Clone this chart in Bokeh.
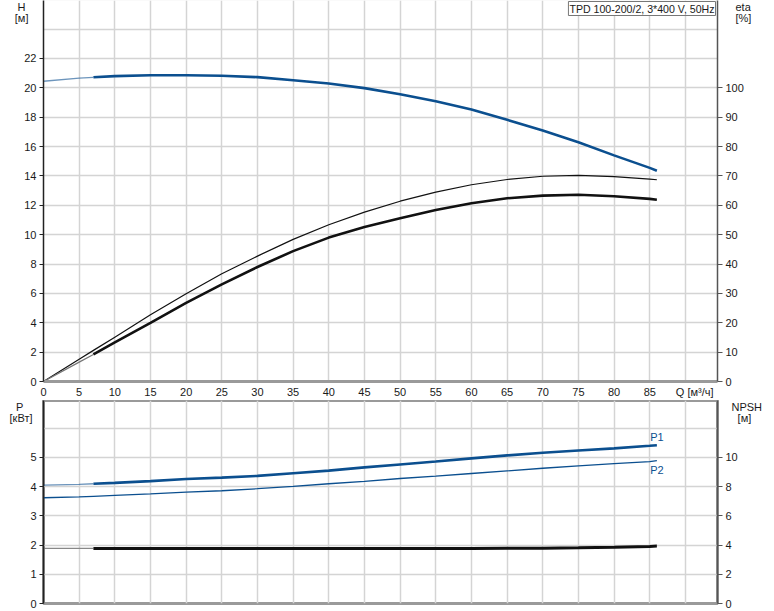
from bokeh.plotting import figure
from bokeh.models import Range1d, LinearAxis, FixedTicker, Label, Grid
from bokeh.layouts import column
from bokeh.embed import file_html
from bokeh.resources import INLINE

# ---------------- data ----------------
q_pts = [0, 5, 7, 10, 15, 20, 25, 30, 35, 40, 45, 50, 55, 60, 65, 70, 75, 80, 85, 86]
head_m = [20.45, 20.66, 20.72, 20.8, 20.86, 20.86, 20.82, 20.73, 20.52, 20.3,
          19.98, 19.57, 19.09, 18.52, 17.82, 17.1, 16.3, 15.4, 14.55, 14.36]
eta_pump = [0, 7.6, 10.6, 15.1, 22.7, 29.9, 36.7, 42.7, 48.4, 53.4,
            57.7, 61.4, 64.5, 67.0, 68.8, 69.9, 70.2, 69.8, 68.9, 68.7]
eta_total = [0, 6.6, 9.2, 13.3, 20.0, 26.8, 33.1, 39.0, 44.4, 49.0,
             52.6, 55.6, 58.4, 60.7, 62.4, 63.3, 63.6, 63.1, 62.2, 61.9]
p1_kw = [4.05, 4.08, 4.10, 4.13, 4.19, 4.26, 4.31, 4.37, 4.46, 4.55,
         4.66, 4.76, 4.86, 4.97, 5.07, 5.16, 5.24, 5.31, 5.40, 5.42]
p2_kw = [3.62, 3.65, 3.67, 3.70, 3.75, 3.81, 3.86, 3.93, 4.01, 4.10,
         4.18, 4.28, 4.36, 4.45, 4.54, 4.63, 4.71, 4.79, 4.86, 4.89]
npsh_m = [3.77, 3.77, 3.77, 3.77, 3.77, 3.77, 3.77, 3.77, 3.77, 3.76,
          3.76, 3.76, 3.76, 3.77, 3.78, 3.79, 3.82, 3.86, 3.91, 3.93]
q_duty_start = 7

q_ticks = list(range(0, 90, 5))
h_ticks = list(range(0, 23, 2))
eta_ticks = list(range(0, 101, 10))
p_ticks = list(range(0, 6))
npsh_ticks = list(range(0, 11, 2))

NB = "\u00a0"
q_title = "Q [м³/ч]"
q_title_at = 91.3
h_titles = ["H" + NB, "[м]"]
h_title_at = [25.54, 24.76]
eta_titles = ["eta", "[%]"]
eta_title_at = [127.7, 123.9]
p_titles = ["P" + NB * 3, "[кВт]"]
p_title_at = [6.74, 6.35]
npsh_titles = ["NPSH", NB * 2 + "[м]"]
npsh_title_at = [13.48, 12.70]
title_text = "TPD 100-200/2, 3*400 V, 50Hz"

# ---------------- style ----------------
FONT = "Liberation Sans"
BLUE = "#0b4f8f"
BLACK = "#111111"
GRID = "#d4d4d4"
TXT = "#1a1a1a"
Q_MAX = 94.5
H_MAX = 25.95
P_MAX = 6.95


def split(q, v, q0):
    thin_q = [a for a in q if a <= q0]
    thin_v = [b for a, b in zip(q, v) if a <= q0]
    thick_q = [a for a in q if a >= q0]
    thick_v = [b for a, b in zip(q, v) if a >= q0]
    return thin_q, thin_v, thick_q, thick_v


def style_axis(ax, ticks, line_color, line_width, tick_out=4):
    ax.ticker = FixedTicker(ticks=ticks)
    ax.axis_line_color = line_color
    ax.axis_line_width = line_width
    ax.major_tick_line_color = line_color
    ax.major_tick_out = tick_out
    ax.major_tick_in = 0
    ax.minor_tick_line_color = None
    ax.major_label_text_font = FONT
    ax.major_label_text_font_size = "11px"
    ax.major_label_text_color = TXT
    ax.major_label_standoff = 3


def title_axis(fig, place, at, labels, standoff, range_name="default"):
    ax = LinearAxis(y_range_name=range_name)
    ax.ticker = FixedTicker(ticks=at)
    ax.major_label_overrides = dict(zip(at, labels))
    ax.axis_line_color = None
    ax.major_tick_line_color = None
    ax.major_tick_out = 0
    ax.major_tick_in = 0
    ax.minor_tick_line_color = None
    ax.major_label_standoff = standoff
    ax.major_label_text_font = FONT
    ax.major_label_text_font_size = "11px"
    ax.major_label_text_color = TXT
    fig.add_layout(ax, place)


def add_grids(p, yticks):
    p.grid.visible = False
    p.add_layout(Grid(dimension=0, ticker=FixedTicker(ticks=list(range(5, 95, 5))),
                      grid_line_color=GRID, grid_line_width=1.5))
    p.add_layout(Grid(dimension=1, ticker=FixedTicker(ticks=yticks),
                      grid_line_color=GRID, grid_line_width=1.5))


# ---------------- top figure: H and eta ----------------
top = figure(width=774, height=400, x_range=Range1d(0, Q_MAX), y_range=Range1d(0, H_MAX),
             output_backend="svg", toolbar_location=None,
             min_border_left=43, min_border_right=57, min_border_top=0, min_border_bottom=19)
top.extra_y_ranges = {"eta": Range1d(0, 5 * H_MAX)}
top.outline_line_color = None
add_grids(top, list(range(2, 27, 2)))

style_axis(top.yaxis[0], h_ticks, "#222222", 1.5)
style_axis(top.xaxis[0], q_ticks + [q_title_at], "#9a9a9a", 3, tick_out=0)
top.xaxis[0].major_label_overrides = {q_title_at: q_title}
top.xaxis[0].major_label_standoff = 4
eta_axis = LinearAxis(y_range_name="eta")
style_axis(eta_axis, eta_ticks, "#555555", 1.5, tick_out=5)
top.add_layout(eta_axis, "right")
title_axis(top, "left", h_title_at, h_titles, -7)
title_axis(top, "right", eta_title_at, eta_titles, -11, "eta")

tq, tv, kq, kv = split(q_pts, head_m, q_duty_start)
top.line(tq, tv, line_color=BLUE, line_width=1.3, line_alpha=0.6)
top.line(kq, kv, line_color=BLUE, line_width=2.6)

top.line(q_pts, eta_pump, line_color=BLACK, line_width=1.2, y_range_name="eta")
tq, tv, kq, kv = split(q_pts, eta_total, q_duty_start)
top.line(tq, tv, line_color="#777777", line_width=1.2, y_range_name="eta")
top.line(kq, kv, line_color=BLACK, line_width=2.6, y_range_name="eta")

top.add_layout(Label(x=Q_MAX, y=H_MAX, x_offset=-2, y_offset=-1, text=title_text,
                     text_align="right", text_baseline="top", text_font=FONT,
                     text_font_size="10.6px", text_color=TXT, padding=1,
                     background_fill_color="white", border_line_color="#777777",
                     border_line_width=1))

# ---------------- bottom figure: P and NPSH ----------------
bot = figure(width=774, height=210, x_range=top.x_range, y_range=Range1d(0, P_MAX),
             output_backend="svg", toolbar_location=None, x_axis_location=None,
             min_border_left=43, min_border_right=57, min_border_top=0, min_border_bottom=7)
bot.extra_y_ranges = {"npsh": Range1d(0, 2 * P_MAX)}
bot.outline_line_color = "#9a9a9a"
bot.outline_line_width = 3
add_grids(bot, list(range(1, 7)))

style_axis(bot.yaxis[0], p_ticks, "#222222", 1.5)
npsh_axis = LinearAxis(y_range_name="npsh")
style_axis(npsh_axis, npsh_ticks, "#555555", 1.5, tick_out=5)
bot.add_layout(npsh_axis, "right")
title_axis(bot, "left", p_title_at, p_titles, -5)
title_axis(bot, "right", npsh_title_at, npsh_titles, -9, "npsh")

tq, tv, kq, kv = split(q_pts, p1_kw, q_duty_start)
bot.line(tq, tv, line_color=BLUE, line_width=1.3, line_alpha=0.6)
bot.line(kq, kv, line_color=BLUE, line_width=2.6)
bot.line(q_pts, p2_kw, line_color=BLUE, line_width=1.3)
tq, tv, kq, kv = split(q_pts, npsh_m, q_duty_start)
bot.line(tq, tv, line_color="#888888", line_width=1.3, y_range_name="npsh")
bot.line(kq, kv, line_color=BLACK, line_width=3, y_range_name="npsh")

bot.add_layout(Label(x=q_pts[-1], y=p1_kw[-1], y_offset=2, text="P1", text_align="center",
                     text_baseline="bottom", text_font=FONT, text_font_size="11px",
                     text_color=BLUE))
bot.add_layout(Label(x=q_pts[-1], y=p2_kw[-1], y_offset=-3, text="P2", text_align="center",
                     text_baseline="top", text_font=FONT, text_font_size="11px",
                     text_color=BLUE))

layout = column(top, bot, spacing=0)
open("out.html", "w").write(file_html(layout, INLINE))
